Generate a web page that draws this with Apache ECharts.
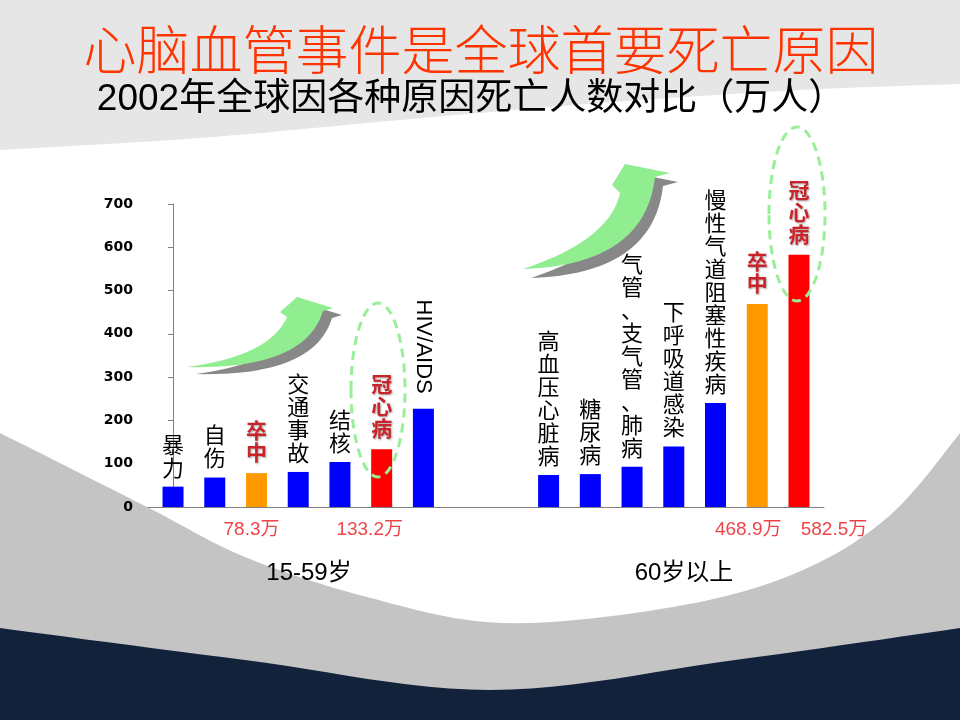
<!DOCTYPE html>
<html>
<head>
<meta charset="utf-8">
<script src="https://cdn.jsdelivr.net/npm/echarts@6/dist/echarts.min.js"></script>
<style>
html, body { margin: 0; padding: 0; background: #fff; }
#main { width: 960px; height: 720px; }
</style>
</head>
<body>
<div id="main"></div>
<script>
// 数据（万人）
var youngNames = ['暴力', '自伤', '卒中', '交通事故', '结核', '冠心病', 'HIV/AIDS'];
var youngValues = [47, 68, 78.3, 81, 104, 133.2, 227];
var oldNames = ['高血压心脏病', '糖尿病', '气管、支气管、肺病', '下呼吸道感染', '慢性气道阻塞性疾病', '卒中', '冠心病'];
var oldValues = [74, 76, 93, 140, 240, 468.9, 582.5];
var groupNames = ['15-59岁', '60岁以上'];
var yMin = 0, yMax = 700, yStep = 100;
var gapSlots = 2;

var titleText = '心脑血管事件是全球首要死亡原因';
var subTitleText = '2002年全球因各种原因死亡人数对比（万人）';

// 样式
var barColor = { '卒中': '#ff9900', '冠心病': '#ff0000' };
var valueLabelShift = [-5, -12, -9, 35];   // 数值标签左右微调
var CJK = "'Noto Sans CJK SC'";
var SANS = "'Liberation Sans', 'Noto Sans CJK SC'";

var chart = echarts.init(document.getElementById('main'), null, { renderer: 'canvas' });

function vert(s) { return s.split('').join('\n'); }

var items = [];
youngNames.forEach(function (n, i) { items.push({ slot: i, name: n, value: youngValues[i] }); });
oldNames.forEach(function (n, i) { items.push({ slot: youngNames.length + gapSlots + i, name: n, value: oldValues[i] }); });

var barData = items.map(function (it) {
  var hot = barColor[it.name] !== undefined;
  var label;
  if (it.name === 'HIV/AIDS') {
    label = { formatter: it.name, rotate: -90, align: 'right', verticalAlign: 'middle', distance: 15,
      fontFamily: SANS, fontSize: 22, color: '#000' };
  } else if (hot) {
    label = { formatter: vert(it.name), fontWeight: 'bold', fontSize: 21, lineHeight: 22, color: '#c8242a',
      textShadowColor: 'rgba(0,0,0,0.35)', textShadowBlur: 2, textShadowOffsetX: 1, textShadowOffsetY: 1, distance: 10 };
  } else {
    label = { formatter: vert(it.name) };
  }
  return { name: it.name, value: [it.slot, it.value], itemStyle: { color: barColor[it.name] || '#0000ff' }, label: label };
});

var k = 0;
var valueData = [];
items.forEach(function (it) {
  if (barColor[it.name] !== undefined) {
    valueData.push({ value: [it.slot, 0], amount: it.value, label: { offset: [valueLabelShift[k++], 0] } });
  }
});

// 背景用的曲线
function spline(pts, n) {
  var out = [];
  for (var i = 0; i < pts.length - 1; i++) {
    var p0 = pts[Math.max(i - 1, 0)], p1 = pts[i], p2 = pts[i + 1], p3 = pts[Math.min(i + 2, pts.length - 1)];
    for (var j = 0; j < n; j++) {
      var t = j / n, t2 = t * t, t3 = t2 * t;
      var p = [0, 1].map(function (d) {
        return 0.5 * (2 * p1[d] + (-p0[d] + p2[d]) * t + (2 * p0[d] - 5 * p1[d] + 4 * p2[d] - p3[d]) * t2 +
          (-p0[d] + 3 * p1[d] - 3 * p2[d] + p3[d]) * t3);
      });
      out.push(p);
    }
  }
  out.push(pts[pts.length - 1]);
  return out;
}
function quad(p0, c, p1, n) {
  var pts = [];
  for (var i = 0; i <= n; i++) {
    var t = i / n, u = 1 - t;
    pts.push([u * u * p0[0] + 2 * u * t * c[0] + t * t * p1[0], u * u * p0[1] + 2 * u * t * c[1] + t * t * p1[1]]);
  }
  return pts;
}
function arrow(a, dx, dy) {
  var pts = quad(a.tail, a.innerCtrl, a.inner, 24);
  pts.push(a.headL, a.headT, a.headR);
  pts = pts.concat(quad(a.outer, a.outerCtrl, a.tail, 24).slice(0, -1));
  return pts.map(function (p) { return [p[0] + dx, p[1] + dy]; });
}
var arrow1 = { tail: [187, 367], inner: [287, 317], innerCtrl: [270, 356], headL: [280, 312], headT: [297, 297],
  headR: [333, 308], outer: [323, 311], outerCtrl: [305, 370] };
var arrow2 = { tail: [523, 269], inner: [620, 193], innerCtrl: [610, 240], headL: [612, 185], headT: [625, 164],
  headR: [670, 173], outer: [655, 177], outerCtrl: [645, 265] };

var whiteArea = [[-15, -15], [975, -15]].concat(spline([[975, 410], [960, 433], [888, 517], [796, 573], [673, 607],
  [502, 623], [367, 597], [245, 557], [147, 507], [0, 433], [-15, 426]], 12));
var topArea = [[-15, -15], [975, -15]].concat(spline([[975, 83], [960, 84], [800, 90], [600, 103], [400, 120],
  [200, 138], [0, 150], [-15, 151]], 12));
var navyArea = [[-15, 735], [975, 735]].concat(spline([[975, 625], [960, 628], [735, 660], [490, 690], [245, 660],
  [0, 628], [-15, 625]], 12));

var option = {
  animation: false,
  backgroundColor: 'transparent',
  graphic: [
    { type: 'rect', z: -100, shape: { x: 0, y: 0, width: 960, height: 720 }, style: { fill: '#c4c4c4' }, silent: true },
    { type: 'polygon', z: -99, shape: { points: whiteArea }, style: { fill: '#ffffff' }, silent: true },
    { type: 'polygon', z: -98, shape: { points: topArea }, style: { fill: '#e6e6e6' }, silent: true },
    { type: 'polygon', z: -98, shape: { points: navyArea }, style: { fill: '#13223b' }, silent: true },
    { type: 'text', x: 481, y: 50, style: { text: titleText, fill: '#ff3300', font: '300 53px ' + CJK,
      textAlign: 'center', textVerticalAlign: 'middle' } },
    { type: 'text', x: 471, y: 100, style: { text: subTitleText, fill: '#000', font: '37px ' + SANS,
      textAlign: 'center', textVerticalAlign: 'middle' } },
    { type: 'text', x: 309, y: 573, style: { text: groupNames[0], fill: '#000', font: '24px ' + SANS,
      textAlign: 'center', textVerticalAlign: 'middle' } },
    { type: 'text', x: 684, y: 573, style: { text: groupNames[1], fill: '#000', font: '24px ' + SANS,
      textAlign: 'center', textVerticalAlign: 'middle' } },
    { type: 'polygon', z: 50, shape: { points: arrow(arrow1, 9, 7) }, style: { fill: '#888888' } },
    { type: 'polygon', z: 51, shape: { points: arrow(arrow1, 0, 0) }, style: { fill: '#90ee90' } },
    { type: 'polygon', z: 50, shape: { points: arrow(arrow2, 8, 9) }, style: { fill: '#888888' } },
    { type: 'polygon', z: 51, shape: { points: arrow(arrow2, 0, 0) }, style: { fill: '#90ee90' } },
    { type: 'ellipse', z: 60, shape: { cx: 378, cy: 390, rx: 27, ry: 87 },
      style: { fill: 'none', stroke: '#99ee99', lineWidth: 3, lineDash: [9, 6] } },
    { type: 'ellipse', z: 60, shape: { cx: 797, cy: 214, rx: 28, ry: 87 },
      style: { fill: 'none', stroke: '#99ee99', lineWidth: 3, lineDash: [9, 6] } }
  ],
  grid: { left: 148, top: 204, width: 676, height: 303 },
  xAxis: {
    type: 'value', min: -0.6, max: 15.6,
    axisLine: { show: true, lineStyle: { color: '#808080', width: 1 } },
    axisTick: { show: false }, axisLabel: { show: false }, splitLine: { show: false }
  },
  yAxis: {
    type: 'value', min: yMin, max: yMax, interval: yStep,
    axisLine: { show: true, lineStyle: { color: '#808080', width: 1 } },
    axisTick: { show: true, length: 5, lineStyle: { color: '#808080' } },
    axisLabel: { color: '#000', fontWeight: 'bold', fontSize: 14, fontFamily: 'DejaVu Sans', margin: 15 },
    splitLine: { show: false }
  },
  series: [
    {
      type: 'bar', barWidth: 21, data: barData, z: 5,
      label: { show: true, position: 'top', distance: 8, fontFamily: CJK, fontSize: 22, lineHeight: 23, color: '#000' }
    },
    {
      type: 'scatter', symbolSize: 1, data: valueData, silent: true, z: 6,
      itemStyle: { color: 'transparent' },
      label: {
        show: true, position: 'bottom', distance: 13, color: '#e81418', fontSize: 19, fontFamily: SANS,
        formatter: function (p) { return p.data.amount + '万'; }
      }
    }
  ]
};
chart.setOption(option);
</script>
</body>
</html>
